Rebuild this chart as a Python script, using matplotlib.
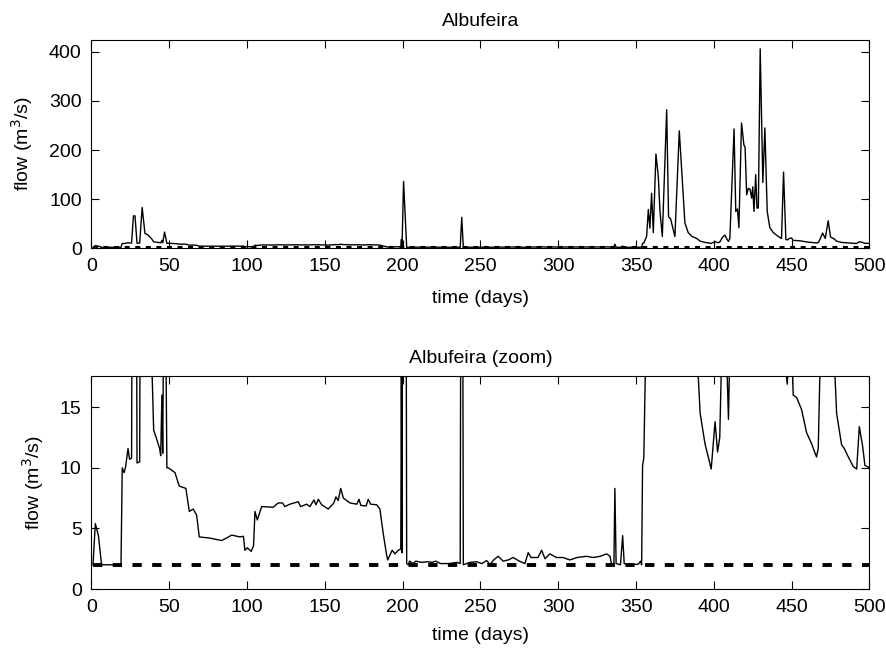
import matplotlib
matplotlib.use("Agg")
import matplotlib.pyplot as plt

plt.rcParams['font.family'] = ['Liberation Sans', 'DejaVu Sans']
plt.rcParams['font.size'] = 14

# daily flow (day, m3/s)
days = [1, 2.5, 4.5, 6.5, 12, 19, 19.8, 21, 22, 23.5, 24.5, 25.8, 27, 28, 29.3, 31,
        32.6, 34.4, 36, 38.5, 40, 41.6, 43.8, 44.5, 45.3, 45.8, 47, 48.5, 49.4, 53.7,
        56.4, 60.7, 62.9, 65.4, 67.6, 69.3, 76.2, 83.7, 86.7, 90.1, 95.4, 97.7, 98.6,
        100.2, 102.7, 104.2, 105.1, 106.6, 109.4, 116.9, 120, 122.8, 124.3, 127.5,
        132.9, 134.4, 138.3, 140.4, 143, 144.3, 145.8, 148, 152.2, 155.8, 157.1, 158.6,
        160.2, 161.9, 166.2, 170.5, 172, 173.1, 176.5, 177.9, 179.4, 183.3, 185.4,
        187.5, 189.7, 190.4, 193.3, 195, 197.2,
        198.8, 199.2, 199.6, 200.6, 202.6, 203.6, 204.5, 206.5, 208.5, 212, 216, 219,
        221.2, 224.4, 229.8, 235, 237, 238, 239, 243.3, 247.6, 250.8, 254, 256.2,
        258.5, 261.4, 264.6, 268, 271, 275, 278.6, 280.7, 282.5, 287, 289.3, 291.5,
        294.6, 298.9, 303, 307.5, 312, 318.2, 322.5, 327, 331.1, 333.3, 334.3, 335.8,
        336.4, 337.2, 340, 341.4, 342.4, 346, 351.4, 353, 353.6, 354.2, 355, 356.8,
        357.9, 358.9, 360, 361.1, 362.8, 364.3, 365.4, 366.9, 369.7, 370.9, 372.2,
        375, 377.8, 379.3, 381.4, 383.5, 386, 389, 391.2, 394.3, 398.3, 400.8, 402.4,
        403.8, 405.5, 407.1, 408.5, 409.4, 410.3, 413, 414.1, 415.2, 416.1, 417.8,
        419.3, 420.1, 421.1, 422.2, 423.3, 424.3, 425, 425.8, 426.9, 427.7, 428.6,
        429.8, 431.5, 432.8, 434.3, 436, 438.2, 441.4, 443.5, 444.8, 446.3, 447.2,
        448.5, 450, 451, 453.2, 456.4, 459.6, 462.8, 464.5, 466, 467.1, 468.2, 469.9,
        471.6, 473.5, 475, 477.4, 478.9, 482.1, 483.8, 486.4, 489.6, 491.8, 493.5,
        495.6, 497.1, 500]
flow = [2.0, 5.4, 4.4, 2.0, 2.0, 2.0, 10.0, 9.6, 10.1, 11.6, 10.7, 10.8, 66, 66, 10.4, 10.5,
        83, 30, 28, 20, 13.1, 12.5, 11.6, 11.0, 16.0, 11.2, 33, 10.0, 10.0, 9.6,
        8.5, 8.3, 6.4, 6.6, 6.1, 4.3, 4.2, 4.0, 4.2, 4.45, 4.3, 4.35, 3.2,
        3.4, 3.1, 3.6, 6.4, 5.7, 6.8, 6.75, 7.1, 7.1, 6.8, 7.0,
        7.2, 6.8, 7.0, 6.8, 7.35, 6.95, 7.4, 6.95, 6.6, 7.1, 7.6, 7.3,
        8.3, 7.5, 7.1, 7.0, 7.4, 6.9, 6.85, 7.4, 7.0, 6.95, 6.6,
        4.6, 2.8, 2.4, 3.2, 2.9, 3.2,
        3.3, 18, 3.0, 136, 2.1, 2.0, 2.3, 2.1, 2.3, 2.2, 2.25, 2.2,
        2.3, 2.1, 2.1, 2.2, 2.1, 63, 2.0, 2.2, 2.25, 2.1, 2.35, 2.0,
        2.4, 2.7, 2.3, 2.4, 2.6, 2.3, 2.1, 3.0, 2.6, 2.6, 3.2, 2.5,
        2.9, 2.6, 2.6, 2.4, 2.6, 2.7, 2.6, 2.7, 2.9, 2.7, 2.0, 2.1,
        8.3, 2.1, 2.0, 4.4, 2.1, 2.0, 2.05, 2.3, 2.0, 10.2, 10.8, 24,
        79, 41, 112, 32, 192, 146, 75, 24, 282, 64, 60,
        24, 239, 160, 52, 32, 24, 20, 14.5, 12.0, 9.9, 13.8, 11.3,
        12.5, 22, 27, 18, 14.0, 20, 243, 75, 80, 42, 255,
        211, 205, 109, 122, 120, 102, 125, 75, 150, 82, 82,
        406, 134, 245, 75, 42, 32, 24, 20, 155, 18, 16.9,
        20, 21, 16.0, 15.8, 14.8, 12.9, 12.0, 11.4, 10.9, 11.6, 18, 31,
        20, 56, 23, 19, 14.5, 11.9, 11.6, 10.9, 10.1, 9.9, 13.4,
        11.8, 10.2, 10.0]

# minimum flow reference level
min_days = [1, 500]
min_flow = [2.0, 2.0]

titles = ['Albufeira', 'Albufeira (zoom)']
ylims = [(0, 424), (0, 17.6)]
yticks = [[0, 100, 200, 300, 400], [0, 5, 10, 15]]
dash_lw = [1.5, 2.8]
title_pad = [10, 9]
xlabel_pad = [11, 8]

fig = plt.figure(figsize=(8.86, 6.51), dpi=100)
ax1 = fig.add_axes([0.1032, 0.6186, 0.8781, 0.3200])
ax2 = fig.add_axes([0.1032, 0.0952, 0.8781, 0.3277])

for i, ax in enumerate([ax1, ax2]):
    ax.plot(days, flow, color='black', lw=1.0)
    ax.plot(min_days, min_flow, color='black', lw=dash_lw[i], dashes=(2.4, 2.67),
            dash_capstyle='butt')
    ax.set_xlim(0, 500)
    ax.set_ylim(*ylims[i])
    ax.set_xticks(range(0, 501, 50))
    ax.set_yticks(yticks[i])
    ax.tick_params(direction='in', top=True, right=True, length=6, width=0.8,
                   labelsize=14, pad=7)
    ax.set_title(titles[i], fontsize=14, pad=title_pad[i])
    ax.set_xlabel('time (days)', fontsize=14, labelpad=xlabel_pad[i])
    ax.set_ylabel('flow (m$^3$/s)', fontsize=14, labelpad=10)
    for sp in ax.spines.values():
        sp.set_linewidth(0.8)

fig.savefig('out.png', dpi=100)
